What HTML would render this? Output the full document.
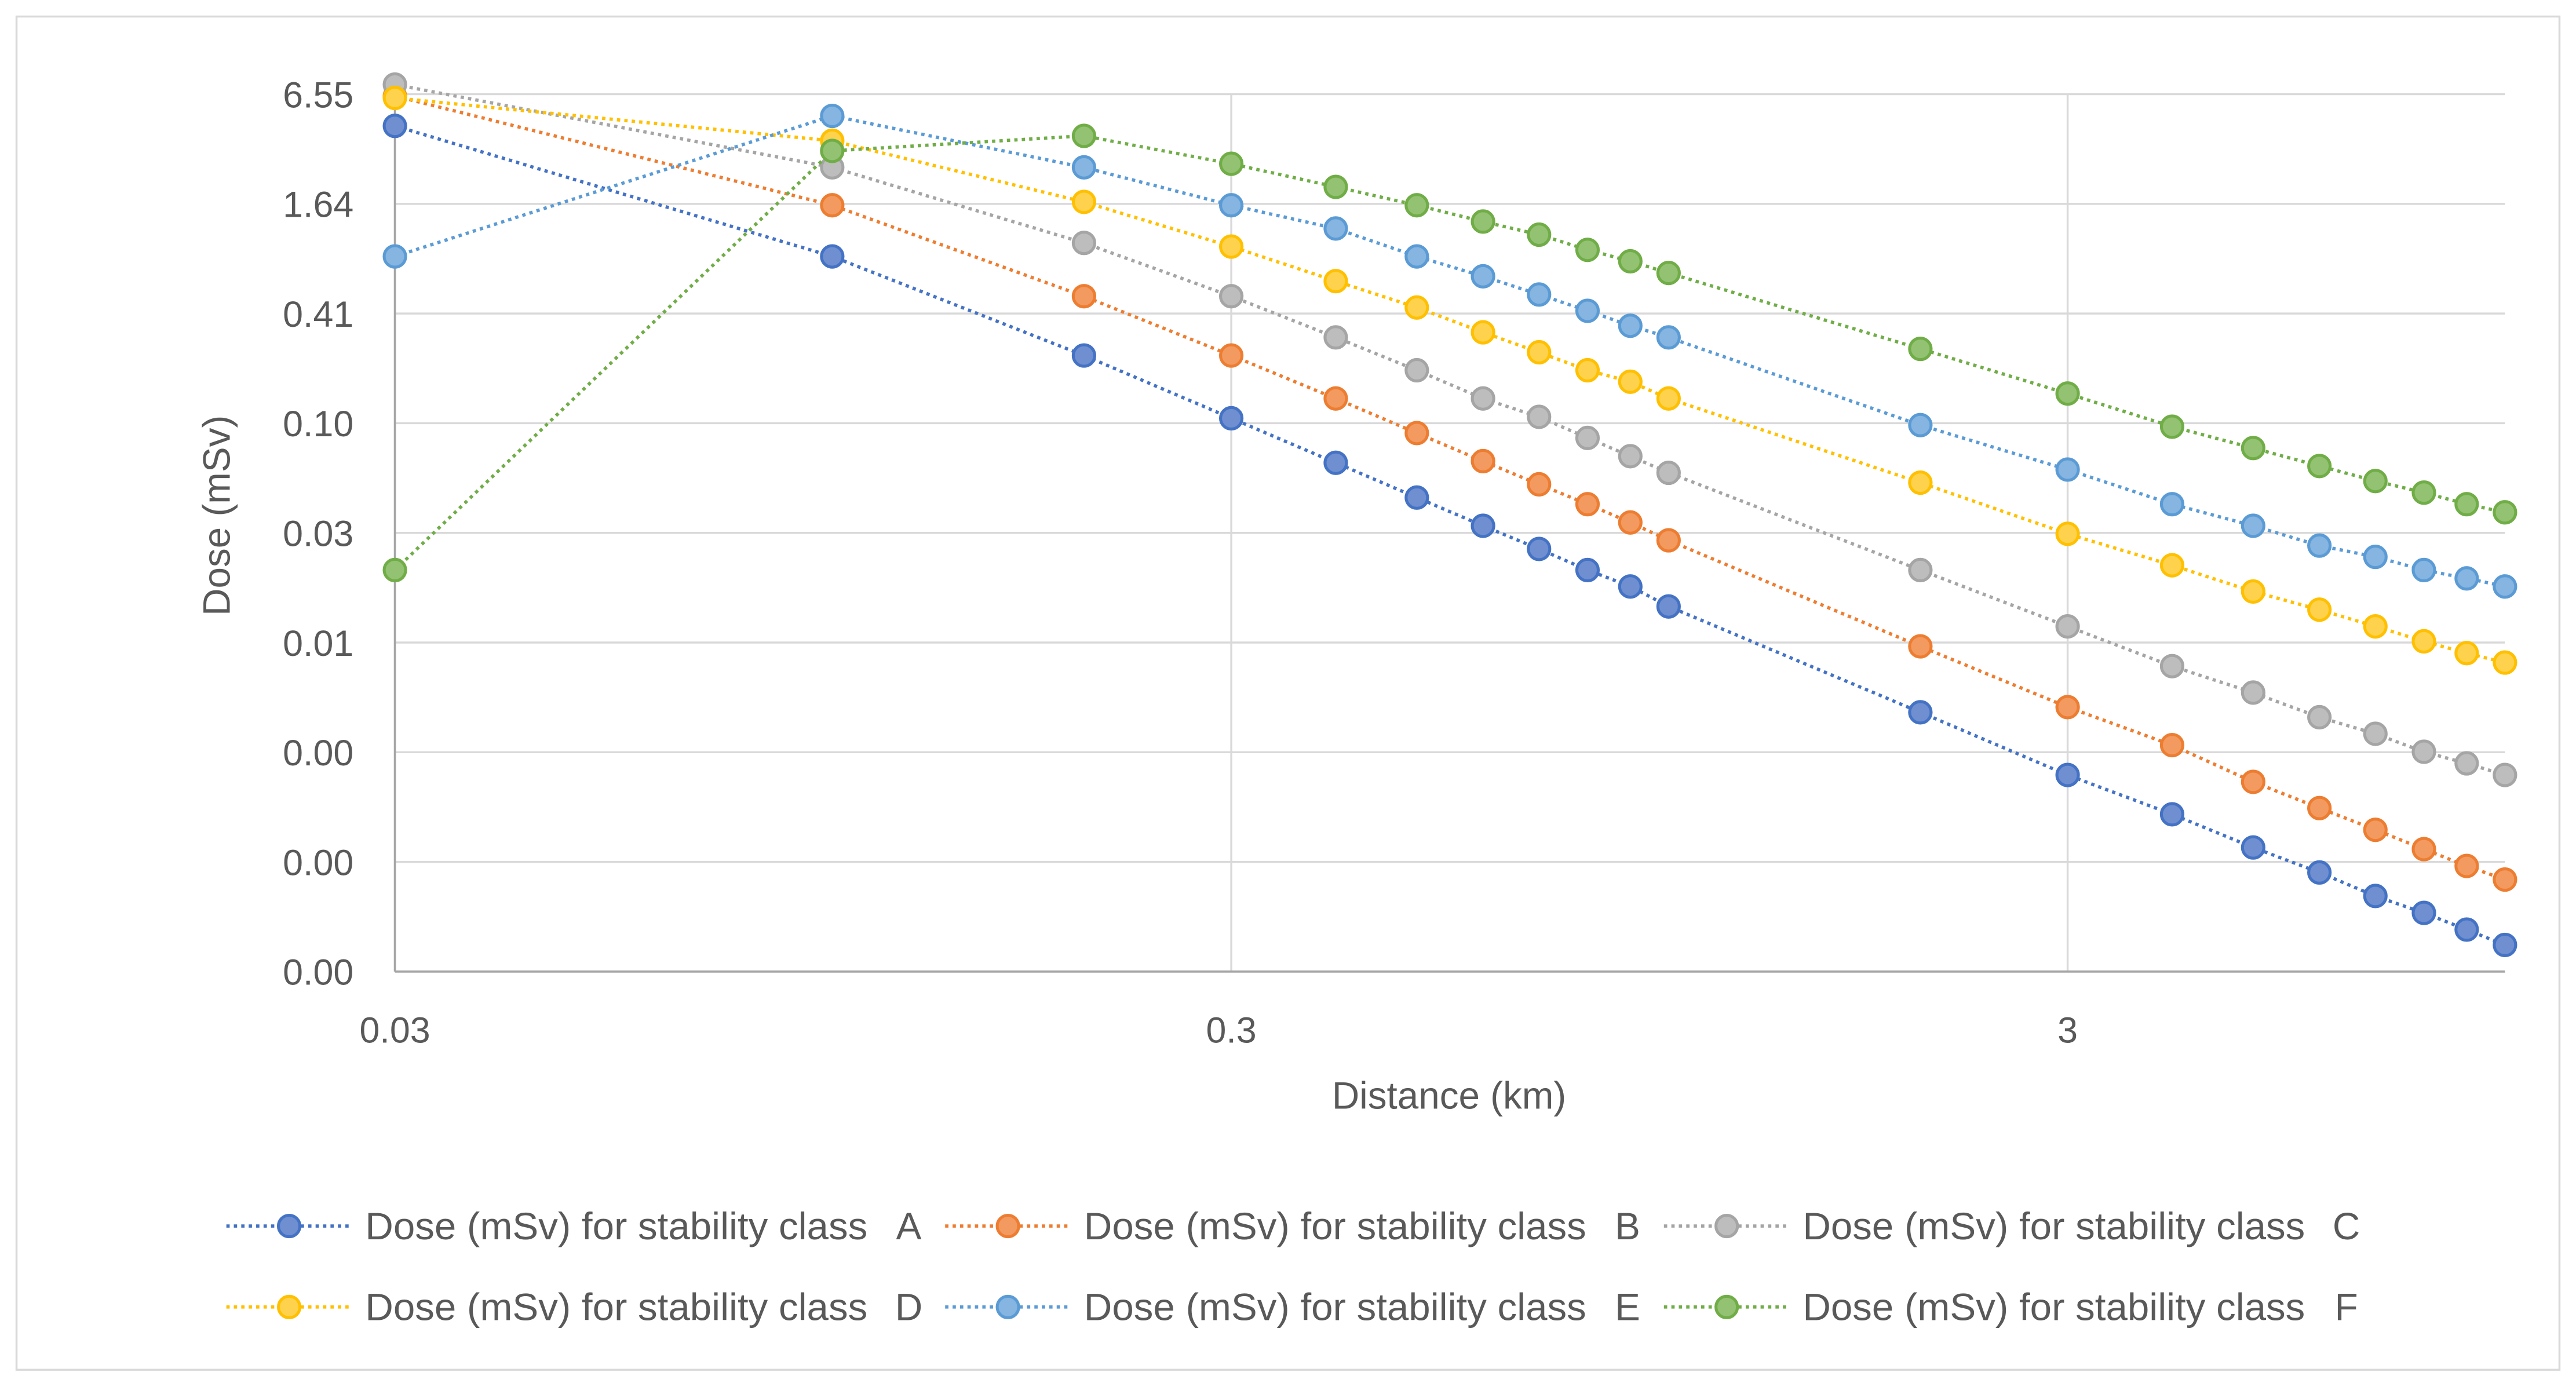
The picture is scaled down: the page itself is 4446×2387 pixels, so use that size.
<!DOCTYPE html>
<html><head><meta charset="utf-8"><style>
html,body{margin:0;padding:0;background:#fff}
svg{display:block}
text{font-family:"Liberation Sans",sans-serif;fill:#595959}
</style></head><body>
<svg id="chart" width="4446" height="2387" viewBox="0 0 1559 837" xmlns="http://www.w3.org/2000/svg">
<rect x="10" y="10" width="1539" height="819" fill="#fff" stroke="#D9D9D9" stroke-width="1.2"/>
<g id="grid"></g>
<g id="axes"></g>
<g id="series"></g>
<text x="877" y="671" font-size="23" text-anchor="middle">Distance (km)</text>
<text transform="translate(139,312) rotate(-90)" font-size="23" text-anchor="middle">Dose (mSv)</text>
<g id="legend"></g>
</svg>
<script>
const distances=[0.03,0.1,0.2,0.3,0.4,0.5,0.6,0.7,0.8,0.9,1.0,2,3,4,5,6,7,8,9,10];
const doseA=[4.39,0.843,0.241,0.109,0.0621,0.040,0.028,0.0209,0.016,0.013,0.0101,0.00265,0.0012,0.00073,0.00048,0.00035,0.00026,0.00021,0.00017,0.00014];
const doseB=[6.4,1.61,0.51,0.241,0.140,0.0904,0.0634,0.0473,0.0368,0.0292,0.0233,0.0061,0.00283,0.00175,0.0011,0.00079,0.0006,0.00047,0.00038,0.00032];
const doseC=[7.4,2.6,1.0,0.51,0.303,0.2,0.140,0.111,0.085,0.0675,0.0547,0.016,0.00785,0.00475,0.0034,0.00249,0.00202,0.00161,0.00139,0.0012];
const doseD=[6.25,3.64,1.68,0.955,0.617,0.442,0.323,0.251,0.2,0.173,0.14,0.0483,0.0253,0.017,0.0122,0.0097,0.00785,0.0065,0.0056,0.00497];
const doseE=[0.843,4.98,2.6,1.61,1.2,0.843,0.656,0.521,0.424,0.351,0.303,0.1,0.057,0.0368,0.028,0.0218,0.0189,0.016,0.0144,0.013];
const doseF=[0.016,3.2,3.87,2.72,2.03,1.61,1.31,1.11,0.916,0.793,0.684,0.262,0.149,0.098,0.0748,0.0596,0.0493,0.0426,0.0368,0.0332];
const yTickLabels=["0.00","0.00","0.00","0.01","0.03","0.10","0.41","1.64","6.55"];
const xTickValues=[0.03,0.3,3];
const xTickLabels=["0.03","0.3","3"];
const seriesNames=["A","B","C","D","E","F"];

const NS="http://www.w3.org/2000/svg";
const X0=239,X1=1516,Y0=588,Y1=57;
const xMin=0.03,xMax=10,yMin=0.0001,yStep=4,nY=8;
function xs(v){return X0+(Math.log10(v)-Math.log10(xMin))/(Math.log10(xMax)-Math.log10(xMin))*(X1-X0);}
function ys(v){return Y0-(Math.log(v/yMin)/Math.log(yStep))/nY*(Y0-Y1);}
function mk(tag,attrs,parent){const e=document.createElementNS(NS,tag);for(const k in attrs)e.setAttribute(k,attrs[k]);parent.appendChild(e);return e;}
const grid=document.getElementById('grid'),axes=document.getElementById('axes'),ser=document.getElementById('series'),leg=document.getElementById('legend');
yTickLabels.forEach((lab,i)=>{
  const y=Y0-i*(Y0-Y1)/nY;
  if(i>0){const g=mk('line',{x1:X0,x2:X1,y1:y,y2:y,stroke:'#D9D9D9','stroke-width':1.2},grid);
  
  }
  const t=mk('text',{x:214,y:y+8,'font-size':22,'text-anchor':'end'},axes);t.textContent=lab;
  
  
});
xTickValues.forEach((v,i)=>{
  const x=xs(v);
  if(i>0){const g=mk('line',{x1:x,x2:x,y1:Y1,y2:Y0,stroke:'#D9D9D9','stroke-width':1.2},grid);
  
  }
  const t=mk('text',{x:x,y:631,'font-size':22,'text-anchor':'middle'},axes);t.textContent=xTickLabels[i];
  
  
});
const ax1=mk('line',{x1:X0,x2:X0,y1:Y1,y2:Y0,stroke:'#A6A6A6','stroke-width':1.3},axes);


const ax2=mk('line',{x1:X0,x2:X1,y1:Y0,y2:Y0,stroke:'#A6A6A6','stroke-width':1.3},axes);



const data=[doseA,doseB,doseC,doseD,doseE,doseF];
const cols=['#4472C4','#ED7D31','#A5A5A5','#FFC000','#5B9BD5','#70AD47'];
const fills=['#6F8FD0','#F29A60','#BDBDBD','#FFD24D','#85B5E0','#93C272'];
data.forEach((arr,s)=>{
  const g=mk('g',{},ser);
  
  
  const pts=arr.map((v,i)=>xs(distances[i]).toFixed(1)+','+ys(v).toFixed(1)).join(' ');
  const pl=mk('polyline',{points:pts,fill:'none',stroke:cols[s],'stroke-width':2,'stroke-dasharray':'2 2.5'},g);
  
  
  arr.forEach((v,i)=>{
    const c=mk('circle',{cx:xs(distances[i]),cy:ys(v),r:6.5,fill:fills[s],stroke:cols[s],'stroke-width':1.8},g);
    
    
  });
});
seriesNames.forEach((n,s)=>{
  const col=s%3,row=Math.floor(s/3);
  const x=137+col*435,y=742+row*49;
  const g=mk('g',{},leg);
  
  
  mk('line',{x1:x,x2:x+75,y1:y,y2:y,stroke:cols[s],'stroke-width':2,'stroke-dasharray':'2 2.5'},g);
  mk('circle',{cx:x+38,cy:y,r:6.5,fill:fills[s],stroke:cols[s],'stroke-width':1.8},g);
  const t=mk('text',{x:x+84,y:y+8,'font-size':23,textLength:304,lengthAdjust:'spacingAndGlyphs'},g);t.textContent='Dose (mSv) for stability class';
  const t2=mk('text',{x:x+413,y:y+8,'font-size':23,'text-anchor':'middle'},g);t2.textContent=n;
});
</script>
</body></html>
